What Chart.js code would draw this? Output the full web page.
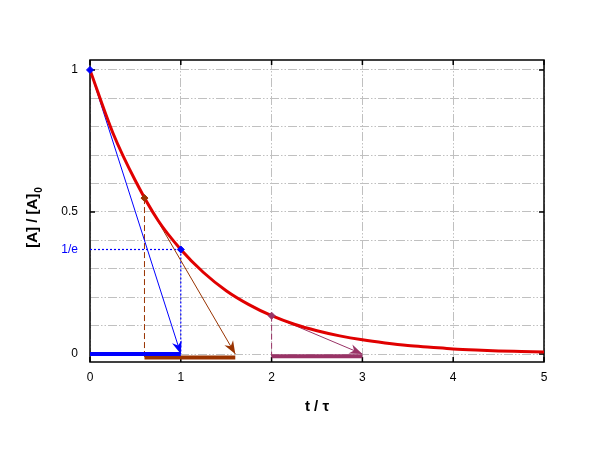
<!DOCTYPE html>
<html>
<head>
<meta charset="utf-8">
<script src="https://cdn.jsdelivr.net/npm/chart.js@4.4.0/dist/chart.umd.min.js"></script>
<style>
  html, body { margin: 0; padding: 0; background: #fff; }
  #wrap { width: 605px; height: 453px; }
</style>
</head>
<body>
<div id="wrap"><canvas id="myChart" width="605" height="453"></canvas></div>
<script>
// decay curve
var tValues = [0, 0.25, 0.5, 0.75, 1, 1.25, 1.5, 1.75, 2, 2.25, 2.5, 2.75, 3, 3.25, 3.5, 3.75, 4, 4.25, 4.5, 4.75, 5];
var concValues = [1, 0.78, 0.61, 0.47, 0.368, 0.287, 0.223, 0.174, 0.135, 0.105, 0.082, 0.064, 0.05, 0.039, 0.03, 0.024, 0.018, 0.014, 0.011, 0.009, 0.007];

// blue: tangent at t=0
var blueTangentX = [0, 1];
var blueTangentY = [1, 0];
var blueBarX = [0, 1];
var blueBarY = [0, 0];
var blueMarkX = [0, 1];
var blueMarkY = [1, 0.368];
var blueGuideHX = [0, 1];
var blueGuideHY = [0.368, 0.368];
var blueGuideVX = [1, 1];
var blueGuideVY = [0.368, 0];

// brown: tangent at t=0.6
var brownTangentX = [0.6, 1.6];
var brownTangentY = [0.549, 0];
var brownDropX = [0.6, 0.6];
var brownDropY = [0.549, -0.012];
var brownBarX = [0.6, 1.6];
var brownBarY = [-0.012, -0.012];

// purple: tangent at t=2
var purpleTangentX = [2, 3];
var purpleTangentY = [0.135, 0];
var purpleDropX = [2, 2];
var purpleDropY = [0.135, -0.008];
var purpleBarX = [2, 3];
var purpleBarY = [-0.008, -0.008];

var xTickValues = [0, 1, 2, 3, 4, 5];
var yGridValues = [0, 0.1, 0.2, 0.3, 0.4, 0.5, 0.6, 0.7, 0.8, 0.9, 1];
var yLabelled = { 0: "0", 0.5: "0.5", 1: "1" };
var oneOverE = 0.368;
var oneOverELabel = "1/e";

var red = "#e00000";
var blue = "#0000ff";
var brown = "#993300";
var purple = "#993366";
var gridColor = "#c0c0c0";
var fontFamily = "'Liberation Sans', Arial, sans-serif";

function pts(xs, ys) {
  return xs.map(function (x, i) { return { x: x, y: ys[i] }; });
}

function lineSet(xs, ys, color, width, dash, extra) {
  var ds = {
    data: pts(xs, ys),
    borderColor: color,
    backgroundColor: color,
    borderWidth: width,
    borderDash: dash || [],
    pointRadius: 0,
    fill: false,
    tension: 0,
  };
  for (var k in extra) ds[k] = extra[k];
  return ds;
}

// arrowheads at the end of the tangent lines
var arrowPlugin = {
  id: "arrows",
  afterDatasetsDraw: function (chart) {
    var ctx = chart.ctx;
    chart.data.datasets.forEach(function (ds, i) {
      if (!ds.arrowHead) return;
      var meta = chart.getDatasetMeta(i);
      var p0 = meta.data[meta.data.length - 2];
      var p1 = meta.data[meta.data.length - 1];
      var ang = Math.atan2(p1.y - p0.y, p1.x - p0.x);
      var len = 13, half = 5;
      ctx.save();
      ctx.translate(p1.x, p1.y);
      ctx.rotate(ang);
      ctx.fillStyle = ds.borderColor;
      ctx.beginPath();
      ctx.moveTo(0, 0);
      ctx.lineTo(-len, -half);
      ctx.lineTo(-len + 4, 0);
      ctx.lineTo(-len, half);
      ctx.closePath();
      ctx.fill();
      ctx.restore();
    });
  },
};

// frame, inner tick marks, axis titles
var framePlugin = {
  id: "frame",
  beforeDatasetsDraw: function (chart) {
    var ctx = chart.ctx;
    var a = chart.chartArea;
    var xs = chart.scales.x, ys = chart.scales.y;
    ctx.save();
    ctx.strokeStyle = "#000";
    ctx.lineWidth = 1.5;
    ctx.strokeRect(a.left, a.top, a.right - a.left, a.bottom - a.top);
    ctx.beginPath();
    xTickValues.forEach(function (v) {
      var px = xs.getPixelForValue(v);
      ctx.moveTo(px, a.bottom); ctx.lineTo(px, a.bottom - 5);
      ctx.moveTo(px, a.top); ctx.lineTo(px, a.top + 5);
    });
    Object.keys(yLabelled).forEach(function (k) {
      var py = ys.getPixelForValue(Number(k));
      ctx.moveTo(a.left, py); ctx.lineTo(a.left + 5, py);
      ctx.moveTo(a.right, py); ctx.lineTo(a.right - 5, py);
    });
    ctx.stroke();
    ctx.restore();
  },
  afterDraw: function (chart) {
    var ctx = chart.ctx;
    var a = chart.chartArea;
    ctx.save();
    ctx.fillStyle = "#000";
    // x title
    ctx.font = "bold 15px " + fontFamily;
    ctx.textAlign = "center";
    ctx.textBaseline = "middle";
    ctx.fillText("t / \u03c4", (a.left + a.right) / 2, 407);
    // y title with subscript
    var main = "[A] / [A]";
    var sub = "0";
    ctx.font = "bold 15px " + fontFamily;
    var wMain = ctx.measureText(main).width;
    ctx.font = "bold 10px " + fontFamily;
    var wSub = ctx.measureText(sub).width;
    ctx.translate(33, 218);
    ctx.rotate(-Math.PI / 2);
    ctx.textAlign = "left";
    ctx.textBaseline = "middle";
    var start = -(wMain + wSub) / 2;
    ctx.font = "bold 15px " + fontFamily;
    ctx.fillText(main, start, 0);
    ctx.font = "bold 10px " + fontFamily;
    ctx.fillText(sub, start + wMain + 1, 6);
    ctx.restore();
  },
};

var datasets = [
  lineSet(blueTangentX, blueTangentY, blue, 1, [], { arrowHead: true, order: 5 }),
  lineSet(brownTangentX, brownTangentY, brown, 1, [], { arrowHead: true, order: 5 }),
  lineSet(purpleTangentX, purpleTangentY, purple, 1, [], { arrowHead: true, order: 5 }),
  lineSet(blueGuideHX, blueGuideHY, blue, 1.2, [2, 2], { order: 5 }),
  lineSet(blueGuideVX, blueGuideVY, blue, 1.2, [2, 2], { order: 5 }),
  lineSet(brownDropX, brownDropY, brown, 1, [6, 3], { order: 5 }),
  lineSet(purpleDropX, purpleDropY, purple, 1, [6, 3], { order: 5 }),
  lineSet(blueBarX, blueBarY, blue, 4, [], { order: 4 }),
  lineSet(brownBarX, brownBarY, brown, 4, [], { order: 4 }),
  lineSet(purpleBarX, purpleBarY, purple, 4, [], { order: 4 }),
  lineSet(tValues, concValues, red, 3, [], { cubicInterpolationMode: "monotone", order: 2 }),
  {
    data: pts(blueMarkX, blueMarkY),
    showLine: false,
    pointStyle: "rectRot",
    pointRadius: 3.5,
    backgroundColor: blue,
    borderColor: blue,
    clip: false,
    order: 1,
  },
  {
    data: pts([brownDropX[0]], [brownDropY[0]]),
    showLine: false,
    pointStyle: "rectRot",
    pointRadius: 3.5,
    backgroundColor: brown,
    borderColor: brown,
    order: 1,
  },
  {
    data: pts([purpleDropX[0]], [purpleDropY[0]]),
    showLine: false,
    pointStyle: "rectRot",
    pointRadius: 3.5,
    backgroundColor: purple,
    borderColor: purple,
    order: 1,
  },
];

var ctx = document.getElementById("myChart").getContext("2d");
var chart = new Chart(ctx, {
  type: "line",
  data: { datasets: datasets },
  options: {
    responsive: false,
    animation: false,
    events: [],
    layout: { padding: { left: 0, right: 61, top: 60, bottom: 0 } },
    plugins: { legend: { display: false }, tooltip: { enabled: false } },
    scales: {
      x: {
        type: "linear",
        min: 0,
        max: 5,
        afterBuildTicks: function (scale) {
          scale.ticks = xTickValues.map(function (v) { return { value: v }; });
        },
        afterFit: function (scale) { scale.height = 91; },
        ticks: {
          color: "#000",
          padding: 8,
          font: { family: fontFamily, size: 12 },
          maxRotation: 0,
          callback: function (v) { return String(v); },
        },
        grid: { color: gridColor, lineWidth: 1, drawTicks: false },
        border: { display: false, dash: [9, 2, 1.5, 2, 1.5, 2] },
      },
      y: {
        type: "linear",
        min: -0.028,
        max: 1.035,
        afterBuildTicks: function (scale) {
          scale.ticks = yGridValues.concat([oneOverE]).map(function (v) { return { value: v }; });
        },
        afterFit: function (scale) { scale.width = 90; },
        ticks: {
          padding: 12,
          font: { family: fontFamily, size: 12 },
          color: function (c) { return c.tick && c.tick.value === oneOverE ? blue : "#000"; },
          callback: function (v) {
            if (v === oneOverE) return oneOverELabel;
            return yLabelled[v] !== undefined ? yLabelled[v] : "";
          },
        },
        grid: {
          color: function (c) { return c.tick && c.tick.value === oneOverE ? "rgba(0,0,0,0)" : gridColor; },
          lineWidth: 1,
          drawTicks: false,
        },
        border: { display: false, dash: [9, 2, 1.5, 2, 1.5, 2] },
      },
    },
  },
  plugins: [framePlugin, arrowPlugin],
});
</script>
</body>
</html>
